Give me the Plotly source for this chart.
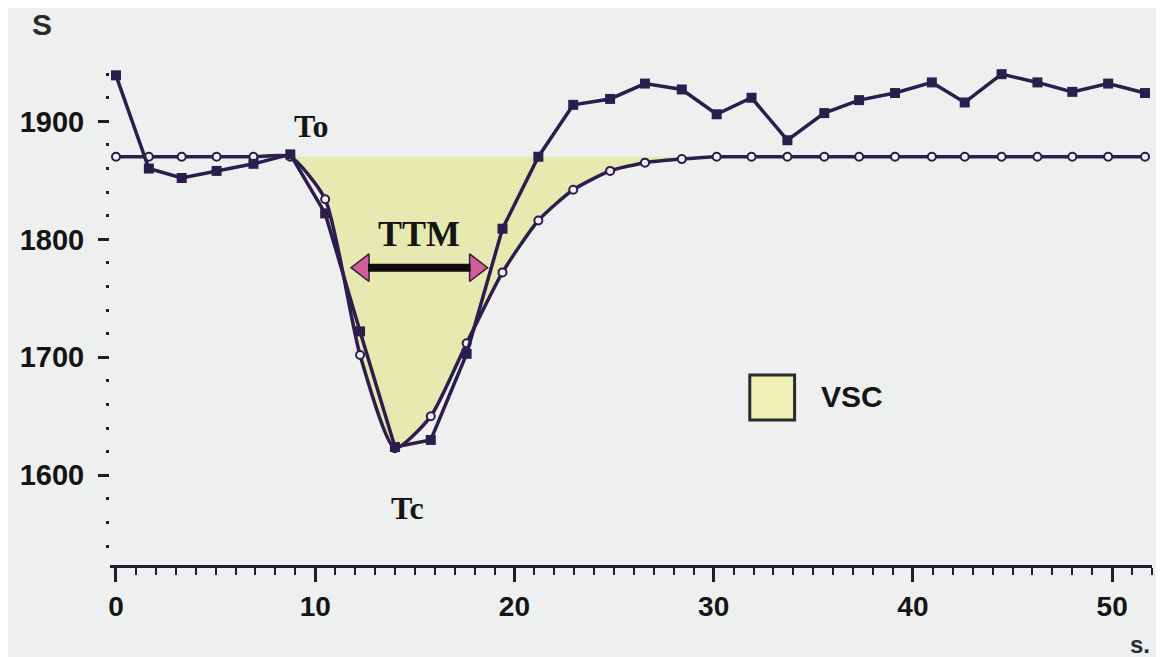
"""
Curva de densidad óptica (S) frente al tiempo, con la curva ajustada,
el área VSC y el tiempo de tránsito medio (TTM).
"""

import plotly.graph_objects as go


# --- Datos ---
tiempo_s = [0, 1.65, 3.3, 5.05, 6.9, 8.75, 10.5, 12.25, 14.0, 15.8,
            17.6, 19.4, 21.2, 22.95, 24.8, 26.55, 28.4, 30.15, 31.9, 33.7,
            35.55, 37.3, 39.1, 40.95, 42.6, 44.45, 46.25, 48.0, 49.8, 51.65]
senal_medida = [1939, 1860, 1852, 1858, 1864, 1872, 1822, 1722, 1624, 1630,
                1703, 1809, 1870, 1914, 1919, 1932, 1927, 1906, 1920, 1884,
                1907, 1918, 1924, 1933, 1916, 1940, 1933, 1925, 1932, 1924]
curva_ajustada = [1870, 1870, 1870, 1870, 1870, 1870, 1834, 1702, 1623, 1650,
                  1712, 1772, 1816, 1842, 1858, 1865, 1868, 1870, 1870, 1870,
                  1870, 1870, 1870, 1870, 1870, 1870, 1870, 1870, 1870, 1870]
linea_base = 1870
i_to = 5          # inicio del descenso (To)
i_tc = 8          # mínimo (Tc)
i_fin_vsc = 17    # la curva vuelve a la línea base
ttm_inicio, ttm_fin, ttm_nivel = 11.65, 18.8, 1776

ticks_y = [1600, 1700, 1800, 1900]
ticks_x = [0, 10, 20, 30, 40, 50]

# --- Colores ---
COLOR_LINEA = "#2b1d4c"
COLOR_FONDO = "#edf0ef"
COLOR_VSC = "#e6e9b0"
COLOR_FLECHA = "#d05e9c"
COLOR_TEXTO = "#151515"
COLOR_EJE = "#231c2c"

fig = go.Figure()

# --- Área VSC (entre la línea base y la curva ajustada) ---
tramo_x = tiempo_s[i_to:i_fin_vsc + 1]
fig.add_trace(go.Scatter(
    x=tramo_x,
    y=[linea_base] * len(tramo_x),
    mode="lines",
    line=dict(width=0, color=COLOR_VSC),
    showlegend=False,
    hoverinfo="skip",
))
fig.add_trace(go.Scatter(
    x=tramo_x,
    y=curva_ajustada[i_to:i_fin_vsc + 1],
    mode="lines",
    line=dict(width=0, color=COLOR_VSC, shape="spline", smoothing=0.6),
    fill="tonexty",
    fillcolor=COLOR_VSC,
    showlegend=False,
    hoverinfo="skip",
))

# --- Curva ajustada (marcadores abiertos) ---
fig.add_trace(go.Scatter(
    x=tiempo_s,
    y=curva_ajustada,
    mode="lines+markers",
    line=dict(color=COLOR_LINEA, width=3.5, shape="spline", smoothing=0.6),
    marker=dict(symbol="circle", size=8, color="#f2f0f4",
                line=dict(color=COLOR_LINEA, width=2)),
    showlegend=False,
))

# --- Señal medida (cuadrados rellenos) ---
fig.add_trace(go.Scatter(
    x=tiempo_s,
    y=senal_medida,
    mode="lines+markers",
    line=dict(color=COLOR_LINEA, width=3.5),
    marker=dict(symbol="square", size=10, color=COLOR_LINEA),
    showlegend=False,
))

# --- Flecha TTM ---
fig.add_shape(
    type="line",
    x0=ttm_inicio + 1.0, x1=ttm_fin - 1.0,
    y0=ttm_nivel, y1=ttm_nivel,
    line=dict(color="#0d0d0d", width=8),
)
fig.add_trace(go.Scatter(
    x=[ttm_inicio + 0.75, ttm_fin - 0.75],
    y=[ttm_nivel, ttm_nivel],
    mode="markers",
    marker=dict(symbol=["triangle-left", "triangle-right"], size=24,
                color=COLOR_FLECHA, line=dict(color="#3a1d3a", width=1.5)),
    showlegend=False,
    hoverinfo="skip",
))

# --- Textos ---
serif = "Liberation Serif"
sans = "Liberation Sans"
fig.add_annotation(x=tiempo_s[i_to], y=senal_medida[i_to], text="To",
                   showarrow=False, xanchor="left", yanchor="bottom",
                   xshift=2, yshift=8,
                   font=dict(family=serif, size=32, color=COLOR_TEXTO, weight="bold"))
fig.add_annotation(x=tiempo_s[i_tc], y=senal_medida[i_tc], text="Tc",
                   showarrow=False, xanchor="center", yanchor="top",
                   xshift=13, yshift=-41,
                   font=dict(family=serif, size=32, color=COLOR_TEXTO, weight="bold"))
fig.add_annotation(x=(ttm_inicio + ttm_fin) / 2, y=ttm_nivel, text="TTM",
                   showarrow=False, xanchor="center", yanchor="bottom",
                   yshift=12,
                   font=dict(family=serif, size=36, color=COLOR_TEXTO, weight="bold"))

# leyenda VSC
fig.add_shape(type="rect", xref="paper", yref="paper",
              x0=0.614, x1=0.657, y0=0.287, y1=0.376,
              fillcolor="#eeefb6", line=dict(color="#2a2a2a", width=3))
fig.add_annotation(xref="paper", yref="paper", x=0.68, y=0.333, text="VSC",
                   showarrow=False, xanchor="left", yanchor="middle",
                   font=dict(family=sans, size=30, color=COLOR_TEXTO, weight="bold"))

# títulos de los ejes
fig.add_annotation(xref="paper", yref="paper", x=-0.065, y=1.07, text="S",
                   showarrow=False, xanchor="center", yanchor="middle",
                   font=dict(family=sans, size=30, color="#2a2a2a", weight="bold"))
fig.add_annotation(xref="paper", yref="paper", x=0.9885, y=-0.158, text="s.",
                   showarrow=False, xanchor="center", yanchor="middle",
                   font=dict(family=sans, size=24, color="#2a2a2a", weight="bold"))

# la página deja 8 px de margen blanco arriba y a la izquierda
fig.update_layout(
    width=1164,
    height=657,
    paper_bgcolor=COLOR_FONDO,
    plot_bgcolor=COLOR_FONDO,
    margin=dict(l=98, r=20, t=52, b=100),
    showlegend=False,
    xaxis=dict(
        range=[-0.3, 52.0],
        tickvals=ticks_x,
        ticks="outside",
        ticklen=14,
        tickwidth=3,
        tickcolor=COLOR_EJE,
        showline=True,
        linecolor=COLOR_EJE,
        linewidth=3,
        showgrid=False,
        zeroline=False,
        ticklabelstandoff=0,
        tickfont=dict(family=sans, size=28, color=COLOR_TEXTO, weight="bold"),
        minor=dict(dtick=1, tick0=0, ticks="outside", ticklen=7,
                   tickwidth=2, tickcolor=COLOR_EJE, showgrid=False),
    ),
    yaxis=dict(
        range=[1524, 1952],
        tickvals=ticks_y,
        ticks="outside",
        ticklen=11,
        tickwidth=3,
        tickcolor=COLOR_EJE,
        showline=False,
        showgrid=False,
        zeroline=False,
        ticklabelstandoff=8,
        tickfont=dict(family=sans, size=29, color=COLOR_TEXTO, weight="bold"),
        minor=dict(dtick=20, tick0=1500, ticks="outside", ticklen=3,
                   tickwidth=3, tickcolor=COLOR_EJE, showgrid=False),
    ),
)

fig.write_html("out.html")
